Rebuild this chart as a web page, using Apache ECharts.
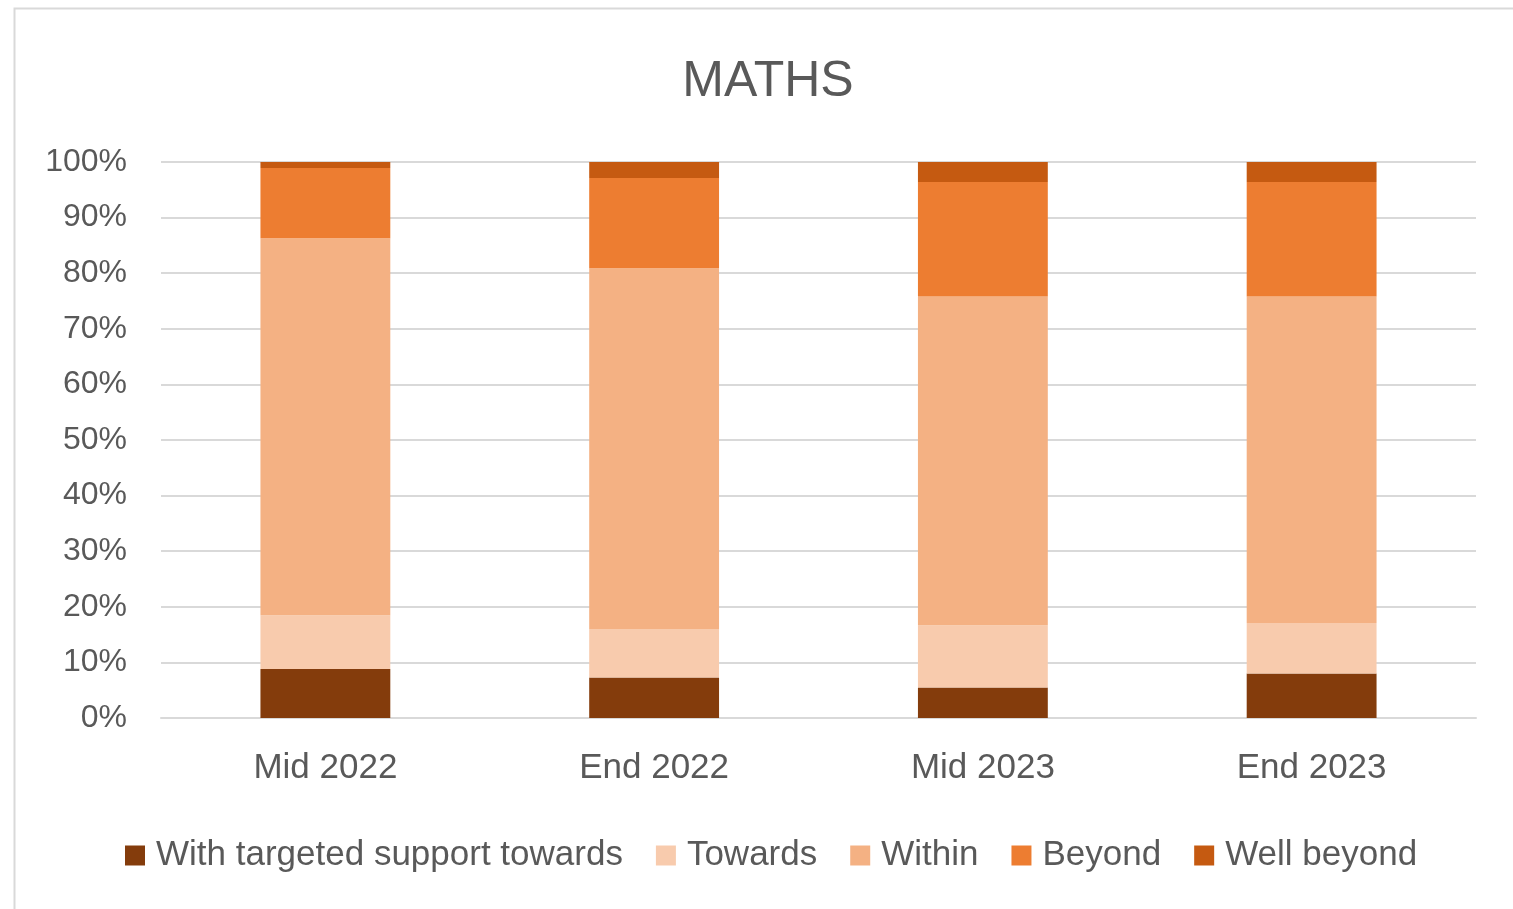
<!DOCTYPE html>
<html>
<head>
<meta charset="utf-8">
<script src="https://cdn.jsdelivr.net/npm/echarts@6/dist/echarts.min.js"></script>
<style>html,body{margin:0;padding:0;background:#fff;}#c{width:1513px;height:909px;}</style>
</head>
<body>
<div id="c"></div>
<script>
const categories = ['Mid 2022', 'End 2022', 'Mid 2023', 'End 2023'];
const targetedSupport = [8.8, 7.3, 5.5, 8.0];
const towards = [9.7, 8.7, 11.2, 9.1];
const within = [67.8, 64.9, 59.1, 58.7];
const beyond = [12.6, 16.2, 20.6, 20.6];
const wellBeyond = [1.1, 2.9, 3.6, 3.6];
const seriesNames = ['With targeted support towards', 'Towards', 'Within', 'Beyond', 'Well beyond'];
const seriesColors = ['#843C0C', '#F8CBAD', '#F4B183', '#ED7D31', '#C55A11'];
const seriesData = [targetedSupport, towards, within, beyond, wellBeyond];

const font = '"Liberation Sans", Arial, sans-serif';
const txt = '#595959';
const chart = echarts.init(document.getElementById('c'));
chart.setOption({
  animation: false,
  backgroundColor: '#fff',
  graphic: [{
    type: 'rect', left: 12, top: 6, silent: true, z: -10,
    shape: { x: 0, y: 0, width: 1600, height: 1000 },
    style: { fill: 'none', stroke: '#d9d9d9', lineWidth: 2 }
  }],
  title: {
    text: 'MATHS', left: 763, top: 52, textAlign: 'center',
    textStyle: { fontFamily: font, fontSize: 50, fontWeight: 'normal', color: txt }
  },
  legend: {
    left: 120, top: 833, itemWidth: 20, itemHeight: 20, itemGap: 33,
    icon: 'rect',
    textStyle: { fontFamily: font, fontSize: 35, color: txt, padding: [0, 0, 0, 6] },
    data: seriesNames
  },
  grid: { left: 161, right: 37, top: 162, bottom: 191 },
  xAxis: {
    type: 'category', data: categories,
    axisLine: { show: true, lineStyle: { color: '#d9d9d9', width: 2 } },
    axisTick: { show: false },
    axisLabel: { fontFamily: font, fontSize: 35, color: txt, margin: 33 }
  },
  yAxis: {
    type: 'value', min: 0, max: 100, interval: 10,
    axisLine: { show: false }, axisTick: { show: false },
    splitLine: { lineStyle: { color: '#d9d9d9', width: 2 } },
    axisLabel: { fontFamily: font, fontSize: 32, color: txt, margin: 34, formatter: '{value}%' }
  },
  series: seriesNames.map((n, i) => ({
    name: n, type: 'bar', stack: 'total', barWidth: '39.5%',
    data: seriesData[i],
    itemStyle: { color: seriesColors[i] }
  }))
});
</script>
</body>
</html>
